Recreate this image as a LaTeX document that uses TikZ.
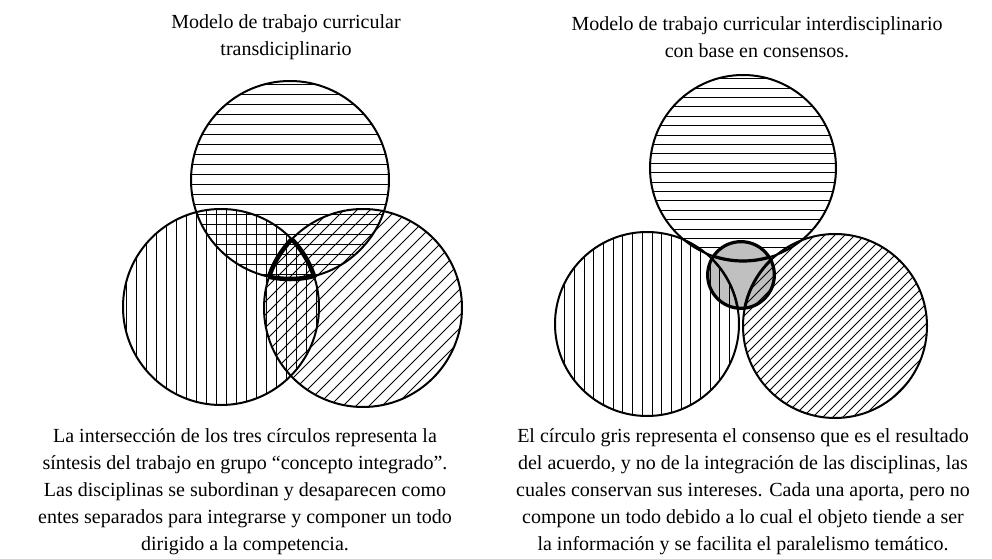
\documentclass[tikz,border=0pt]{standalone}
\usepackage{fontspec}
\setmainfont{Liberation Serif}
\tikzset{
  hatch/.style={line width=0.75pt,black},
  outline/.style={draw=black,line width=1.5pt},
  txt/.style={align=center,font=\fontsize{15}{20.25}\selectfont,inner sep=0pt},
}
\begin{document}
\begin{tikzpicture}[x=0.75pt,y=-0.75pt]
\useasboundingbox (0,0) rectangle (992,559);
\fill[white] (0,0) rectangle (992,559);
% ---------- left diagram ----------
\coordinate (LT) at (290,180);
\coordinate (LL) at (221,307);
\coordinate (LR) at (363,308);
\begin{scope}
  \clip (LT) circle[radius=74.25pt];
  \foreach \i in {-95,-85,...,95} \draw[hatch] (190,180+\i) -- (390,180+\i);
\end{scope}
\begin{scope}
  \clip (LL) circle[radius=73.5pt];
  \foreach \i in {-95,-85,...,95} \draw[hatch] (221+\i,205) -- (221+\i,410);
\end{scope}
\begin{scope}
  \clip (LR) circle[radius=74.25pt];
  \foreach \i in {-143,-130,...,143} \draw[hatch] (263+\i,408) -- (463+\i,208);
\end{scope}
\draw[outline] (LT) circle[radius=74.25pt];
\draw[outline] (LL) circle[radius=73.5pt];
\draw[outline] (LR) circle[radius=74.25pt];
\begin{scope}
  \clip (LL) circle[radius=73.5pt];
  \clip (LR) circle[radius=74.25pt];
  \draw[line width=3.4pt] (LT) circle[radius=74.25pt];
\end{scope}
\begin{scope}
  \clip (LT) circle[radius=74.25pt];
  \clip (LR) circle[radius=74.25pt];
  \draw[line width=3.4pt] (LL) circle[radius=73.5pt];
\end{scope}
\begin{scope}
  \clip (LT) circle[radius=74.25pt];
  \clip (LL) circle[radius=73.5pt];
  \draw[line width=3.4pt] (LR) circle[radius=74.25pt];
\end{scope}
% ---------- right diagram ----------
\coordinate (RT) at (743,168);
\coordinate (RL) at (647,324);
\coordinate (RR) at (835,326);
\coordinate (RG) at (741,275);
\begin{scope}
  \clip (RT) circle[radius=69.75pt];
  \foreach \i in {-89.3,-79.9,...,93} \draw[hatch] (645,168+\i) -- (840,168+\i);
\end{scope}
\fill[fill={rgb,255:red,192;green,192;blue,192}] (RG) circle[radius=25pt];
\begin{scope}
  \clip (RL) circle[radius=69pt];
  \foreach \i in {-92,-82.3,...,92} \draw[hatch] (647+\i,228) -- (647+\i,420);
\end{scope}
\begin{scope}
  \clip (RR) circle[radius=69pt];
  \foreach \i in {-190,-180,...,190} \draw[hatch] (740+\i,420) -- (930+\i,230);
\end{scope}
\draw[outline] (RT) circle[radius=69.75pt];
\draw[outline] (RL) circle[radius=69pt];
\draw[outline] (RR) circle[radius=69pt];
\begin{scope}
  \clip (RG) circle[radius=25pt];
  \draw[line width=2.4pt] (RT) circle[radius=69.75pt];
  \draw[line width=1.8pt] (RL) circle[radius=69pt];
  \draw[line width=2.2pt] (RR) circle[radius=69pt];
\end{scope}
\draw[line width=2.4pt] (RG) circle[radius=25pt];
% ---------- texts ----------
\node[txt] (t1) at (286,37) {Modelo de trabajo curricular\\transdiciplinario};
\node[txt] (t2) at (757,37) {Modelo de trabajo curricular interdisciplinario\\con base en consensos.};
\node[txt] (c1) at (245,492) {La intersección de los tres círculos representa la\\síntesis del trabajo en grupo “concepto integrado”.\\Las disciplinas se subordinan y desaparecen como\\entes separados para integrarse y componer un todo\\dirigido a la competencia.};
\node[txt] (c2) at (743,492) {El círculo gris representa el consenso que es el resultado\\del acuerdo, y no de la integración de las disciplinas, las\\cuales conservan sus intereses. Cada una aporta, pero no\\compone un todo debido a lo cual el objeto tiende a ser\\la información y se  facilita el paralelismo temático.};
\end{tikzpicture}
\end{document}
